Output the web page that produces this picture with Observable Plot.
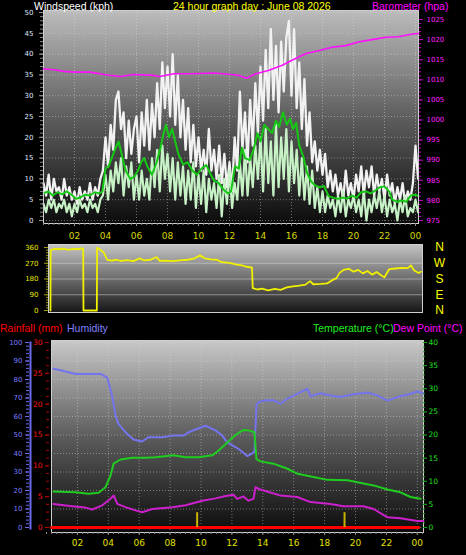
<!DOCTYPE html>
<html><head><meta charset="utf-8">
<script src="https://cdn.jsdelivr.net/npm/d3@7"></script>
<script src="https://cdn.jsdelivr.net/npm/@observablehq/plot@0.6"></script>
<style>
html,body{margin:0;padding:0;background:#000;}
#chart{position:relative;width:466px;height:555px;background:#000;overflow:hidden;font-family:"Liberation Sans",Arial,sans-serif;}
#chart svg{position:absolute;left:0;top:0;}
.t{position:absolute;font-size:10.5px;line-height:10.5px;white-space:nowrap;}
</style></head><body><div id="chart"></div>
<script>
// ---------- DATA ----------
const hourTicks = [2,4,6,8,10,12,14,16,18,20,22,24];
const fmtHour = d => String(d % 24).padStart(2, "0");

// wind, sampled every 10 minutes from 00:00
const gust = [
 9,6,11,5,10,7,  8,5,10,6,8,5,  7,4,8,5,7,5,  9,5,8,6,10,12,
 20,13,23,17,29,31,  22,26,15,24,16,22,  25,14,26,18,29,17,  28,20,33,22,38,27,
 37,25,40,23,35,20,  29,17,27,14,23,13,  20,12,17,11,22,12,  17,10,18,9,16,8,
 14,7,20,12,31,17,  26,14,29,18,33,21,  37,24,41,27,46,29,  42,26,43,31,44,48,
 30,46,27,38,22,34,  18,26,14,19,12,17,  11,16,8,12,7,11,  6,9,5,12,6,9,
 5,11,7,13,6,12,  8,13,6,11,7,10,  5,11,6,9,4,8,  5,9,4,7,5,9,
 18,10];
const speed = [
 4,2,5,3,5,2,  4,3,5,2,4,1,  4,2,5,3,4,2,  5,3,4,2,5,6,
 11,5,12,7,14,9,  15,6,13,8,14,5,  11,5,12,6,10,5,  15,8,17,7,18,10,
 16,7,15,5,14,6,  13,4,12,5,14,3,  11,4,12,2,10,5,  9,3,11,1,10,4,
 12,3,9,5,14,6,  17,6,15,8,18,10,  20,7,22,9,19,6,  23,8,20,10,22,7,
 19,9,17,6,15,5,  13,4,12,3,8,2,  7,2,6,3,5,1,  6,2,7,1,5,3,
 6,2,5,1,7,0,  5,2,6,3,7,2,  6,1,5,2,4,0,  5,2,6,1,3,2,
 5,2];
const windHours = gust.map((_, i) => i / 6);

const avgHours = [0,0.3,0.6,0.9,1.2,1.5,1.8,2.1,2.4,2.7,3.0,3.3,3.6,3.8,4.0,4.2,4.4,4.6,4.85,5.1,5.3,5.6,5.85,6.1,6.3,6.5,6.7,7.0,7.3,7.55,7.75,7.9,8.1,8.3,8.5,8.7,9.0,9.3,9.6,9.9,10.2,10.5,10.8,11.0,11.3,11.6,11.9,12.1,12.35,12.6,12.8,13.0,13.3,13.55,13.8,14.0,14.25,14.5,14.75,15.0,15.2,15.45,15.7,15.9,16.1,16.3,16.5,16.75,17.0,17.25,17.5,17.8,18.1,18.4,18.7,19.0,19.3,19.6,19.9,20.2,20.5,20.8,21.1,21.4,21.7,22.0,22.3,22.5,22.8,23.1,23.4,23.7,24.0,24.2];
const avgValues = [6.5,7,6,6.8,6.3,7,6.2,5.2,5.6,6.2,6,6.8,6.5,7,12.5,13,15,17,19,15,12,10,10.5,12,14,15,13,11,14,17.5,21,23,20,22,19,16,13.5,14,12,11,12.5,13.3,11,9.6,9,7.5,6.5,7,13,12.5,17.5,15,14.5,17,21,19,23,22,21,24,22.5,26,23,24.5,22,23.5,18,15.5,11.5,9.5,8.5,8,8.3,5.8,5.5,5.2,5.5,5.3,6,5.5,6.8,7,6.5,7.2,8,8.2,7,5,4.5,4.8,4.5,6,6.2,5.8];

const baroHours = [0,0.7,1.3,2.0,3.0,4.1,5.0,5.8,7.1,7.5,8.4,9.5,11.0,12.1,12.6,13.1,13.7,14.5,15.4,16.0,16.9,17.8,18.6,19.5,20.3,21.2,22.1,22.9,23.8,24.2];
const baroValues = [1012.7,1012.5,1012.1,1011.9,1011.9,1011.2,1010.8,1011.3,1011.1,1010.8,1011.5,1011.5,1011.7,1011.3,1011.1,1010.4,1011.5,1012.3,1013.6,1014.8,1016.5,1017.3,1018.1,1018.5,1019.4,1020.0,1020.6,1020.7,1021.4,1021.5];

const dirHours = [0.45,0.46,0.7,1.0,1.3,1.6,1.9,2.2,2.5,2.56,2.58,3.44,3.46,3.7,3.9,4.1,4.4,4.7,5.0,5.4,5.8,6.2,6.5,6.9,7.3,7.5,7.9,8.3,8.8,9.3,9.7,10.1,10.4,10.8,11.2,11.5,12.0,12.4,12.8,13.1,13.45,13.5,13.8,14.1,14.5,14.9,15.3,15.7,16.1,16.5,16.9,17.2,17.4,17.9,18.3,18.6,18.9,19.1,19.4,19.7,20.0,20.3,20.6,20.9,21.2,21.5,21.8,22.0,22.3,22.7,23.1,23.5,23.7,23.9,24.2,24.35];
const dirValues = [0,345,352,350,353,347,352,350,355,352,0,0,358,345,330,290,285,290,283,288,282,298,286,290,305,283,285,282,286,290,296,315,298,292,290,276,272,264,258,250,245,128,120,125,115,124,118,132,138,142,148,168,150,152,155,172,185,215,234,238,222,232,212,226,205,220,200,190,236,240,244,242,258,230,214,222];
const compassLabels = ["N","W","S","E","N"];
const compassDegrees = [360,270,180,90,0];

const humHours = [0.45,0.9,1.88,3.5,3.93,4.25,4.47,4.66,5.11,5.63,6.19,6.6,7.49,8.22,8.87,9.19,9.64,10.29,10.94,11.37,11.7,12.23,12.56,12.99,13.31,13.46,13.59,13.72,14.05,14.69,15.15,15.6,16.25,16.89,17.09,17.73,18.38,19.03,19.87,20.78,21.42,22.07,22.72,23.56,24.01,24.4];
const humValues = [85.8,85,83,83,81,71,60.5,56,51.5,47.6,46.5,48.8,48.8,49.7,49.7,51.5,53,55,52.5,49.7,46,43.5,41.6,38.6,40,41,66,67.7,68.6,68.8,67,69.7,72.4,75,71,72.6,71.4,70.5,72,73,71.4,68.6,70.5,72.3,73.5,72.4];

const tempHours = [0.45,1.88,2.72,3.37,3.82,4.14,4.34,4.79,5.55,6.41,7.06,8.22,9.0,9.84,10.72,11.13,11.7,12.23,12.75,13.07,13.46,13.59,13.85,14.69,15.6,16.25,17.28,18.19,19.48,20.13,21.17,22.07,22.91,23.56,24.21];
const tempValues = [7.8,7.6,7.3,7.5,8.7,11.2,13.8,14.7,15.1,15.1,15.2,15.6,15.2,15.2,15.6,16.6,18.4,20,21.1,21,20.6,14.8,14.3,13.8,12.7,11.6,10.9,10.3,10.2,9.8,9.1,8.2,7.6,6.6,6.2];

const dewHours = [0.45,1.66,2.52,2.96,3.61,4.14,4.36,4.58,5.11,5.76,6.19,6.84,8.14,9.0,10.08,10.94,11.59,12.1,12.34,12.75,13.07,13.4,13.53,13.85,14.28,15.15,16.23,17.09,18.38,19.22,20.52,21.17,22.07,22.91,24.01,24.4];
const dewValues = [5.1,4.6,4.3,3.9,4.8,6.2,6.9,5.1,4.4,3.7,3.3,4.0,4.4,4.8,5.8,6.3,6.8,7.1,6.2,6.7,5.8,6.2,8.7,8.2,7.8,6.9,6.6,5.5,5.1,4.6,4.6,4.0,2.2,2.0,1.4,1.4];

const rainHours = [0.32, 24.08];
const rainValues = [0, 0];
const rainMarkHours = [9.75, 19.29];
const rainMarkValues = [2.4, 2.4];

// ---------- BUILD ----------
const zip = (hs, vs) => hs.map((h, i) => ({h, v: vs[i]}));
const gustData = zip(windHours, gust);
const speedData = zip(windHours, speed);
const avgData = zip(avgHours, avgValues);
const baroData = zip(baroHours, baroValues);
const dirData = zip(dirHours, dirValues);
const compass = compassLabels.map((lab, i) => ({lab, deg: compassDegrees[i]}));
const humData = zip(humHours, humValues);
const tempData = zip(tempHours, tempValues);
const dewData = zip(dewHours, dewValues);
const rainData = zip(rainHours, rainValues);
const rainMarks = zip(rainMarkHours, rainMarkValues);

const chart = document.getElementById("chart");
const base = {width: 466, height: 555,
  style: "background:transparent;overflow:visible;position:absolute;left:0;top:0;font-family:'DejaVu Sans',sans-serif;"};
function addGrad(svg, id, stops) {
  const g = d3.select(svg).insert("defs", ":first-child").append("linearGradient")
    .attr("id", id).attr("x1", 0).attr("y1", 0).attr("x2", 0).attr("y2", 1);
  stops.forEach(([o, c]) => g.append("stop").attr("offset", o).attr("stop-color", c));
}
const plain = d => String(d);
const dotted = {stroke: "#dcdcdc", strokeOpacity: 0.45, strokeDasharray: "1,2"};
const x1 = {domain: [2, 24], range: [74, 415], axis: null};
const x3 = {domain: [2, 24], range: [76.9, 416.8], axis: null};
const m1 = {marginTop: 10, marginBottom: 332, marginLeft: 43, marginRight: 48};
const m3 = {marginTop: 340, marginBottom: 23, marginLeft: 51, marginRight: 43};

// Panel 1: wind
const p1 = Plot.plot({...base, ...m1, x: x1,
  y: {domain: [0, 50], range: [220, 12], axis: null},
  marks: [
    Plot.frame({fill: "url(#gWind)", stroke: "none"}),
    Plot.gridY(d3.range(0, 51, 5), dotted),
    Plot.gridX(hourTicks, dotted),
    Plot.line(gustData, {x: "h", y: "v", stroke: "#f2f2f2", strokeWidth: 2.3}),
    Plot.line(speedData, {x: "h", y: "v", stroke: "#c6f2c6", strokeWidth: 2.2}),
    Plot.line(avgData, {x: "h", y: "v", stroke: "#14c814", strokeWidth: 2}),
    Plot.frame({stroke: "#cfcfcf"}),
    Plot.axisY(d3.range(0, 51, 5), {anchor: "left", tickSize: 4, tickPadding: 6, stroke: "#9a9a9a", fill: "#dfe8ff", fontSize: 7, tickFormat: plain, label: null}),
    Plot.axisY(d3.range(0, 51, 1), {anchor: "left", tickSize: 3, stroke: "#8a8a8a", fill: "none", label: null}),
    Plot.axisX(hourTicks, {anchor: "bottom", tickSize: 3, tickPadding: 6, stroke: "#9a9a9a", fill: "#d8d800", fontSize: 9, tickFormat: fmtHour, label: null}),
    Plot.axisX(d3.range(0, 24.2, 1/3), {anchor: "bottom", tickSize: 2, stroke: "#8a8a8a", fill: "none", label: null})
  ]});
addGrad(p1, "gWind", [[0, "#bcbcbc"], [0.5, "#5e5e5e"], [1, "#0c0c0c"]]);
chart.appendChild(p1);

// Panel 1 overlay: barometer
const p1b = Plot.plot({...base, ...m1, x: x1,
  y: {domain: [975, 1025], range: [220, 19], axis: null},
  marks: [
    Plot.line(baroData, {x: "h", y: "v", stroke: "#ff10ff", strokeWidth: 1.6}),
    Plot.axisY(d3.range(975, 1026, 5), {anchor: "right", tickSize: 4, tickPadding: 4, stroke: "#d000d0", fill: "#ff20ff", fontSize: 7, tickFormat: plain, label: null}),
    Plot.axisY(d3.range(975, 1026, 1), {anchor: "right", tickSize: 2, stroke: "#b000b0", fill: "none", label: null})
  ]});
chart.appendChild(p1b);

// Panel 2: wind direction
const p2 = Plot.plot({...base, marginTop: 244, marginBottom: 243, marginLeft: 48, marginRight: 44, x: x1,
  y: {domain: [0, 360], range: [310, 247], axis: null},
  marks: [
    Plot.frame({fill: "url(#gDir)", stroke: "none"}),
    Plot.gridY([90, 180, 270], {stroke: "#dcdcdc", strokeOpacity: 0.5}),
    Plot.line(dirData, {x: "h", y: "v", stroke: "#f0f000", strokeWidth: 1.8}),
    Plot.frame({stroke: "#cfcfcf"}),
    Plot.axisY([0, 90, 180, 270, 360], {anchor: "left", tickSize: 4, tickPadding: 6, stroke: "#a0a000", fill: "#e8e800", fontSize: 7, tickFormat: plain, label: null}),
    Plot.axisY(d3.range(0, 361, 15), {anchor: "left", tickSize: 2, stroke: "#909000", fill: "none", label: null}),
    Plot.text(compass, {y: "deg", text: "lab", frameAnchor: "right", dx: 17, textAnchor: "middle", fill: "#ffff00", fontSize: 12, fontFamily: "Liberation Sans"})
  ]});
addGrad(p2, "gDir", [[0, "#c4c4c4"], [1, "#161616"]]);
chart.appendChild(p2);

// Panel 3: base (background, grid, time axis)
const p3 = Plot.plot({...base, ...m3, x: x3,
  y: {domain: [0, 100], range: [527, 342], axis: null},
  marks: [
    Plot.frame({fill: "url(#gTemp)", stroke: "none"}),
    Plot.gridY(d3.range(0, 101, 10), dotted),
    Plot.gridX(hourTicks, dotted),
    Plot.frame({stroke: "#cfcfcf"}),
    Plot.axisX(hourTicks, {anchor: "bottom", tickSize: 3, tickPadding: 4, stroke: "#9a9a9a", fill: "#e0e000", fontSize: 9, tickFormat: fmtHour, label: null}),
    Plot.axisX(d3.range(0, 24.5, 1/3), {anchor: "bottom", tickSize: 2, stroke: "#8a8a8a", fill: "none", label: null})
  ]});
addGrad(p3, "gTemp", [[0, "#c8c8c8"], [0.5, "#5c5c5c"], [1, "#0c0c0c"]]);
chart.appendChild(p3);

// Panel 3 overlay: humidity (axis bar at left)
const p3h = Plot.plot({...base, marginTop: 341, marginBottom: 26, marginLeft: 29, marginRight: 435, x: x3,
  y: {domain: [0, 100], range: [527, 342], axis: null},
  marks: [
    Plot.frame({fill: "#6a6af0", stroke: "none"}),
    Plot.line(humData, {x: "h", y: "v", stroke: "#7474ee", strokeWidth: 2}),
    Plot.axisY(d3.range(0, 101, 10), {anchor: "left", tickSize: 4, tickPadding: 3, stroke: "#6a6af0", fill: "#7c7cff", fontSize: 7, tickFormat: plain, label: null}),
    Plot.axisY(d3.range(0, 101, 2), {anchor: "left", tickSize: 3, stroke: "#6a6af0", fill: "none", label: null})
  ]});
chart.appendChild(p3h);

// Panel 3 overlay: temperature & dew point (right axis)
const p3t = Plot.plot({...base, marginTop: 340, marginBottom: 23, marginLeft: 51, marginRight: 44, x: x3,
  y: {domain: [0, 40], range: [527, 342], axis: null},
  marks: [
    Plot.line(tempData, {x: "h", y: "v", stroke: "#20cc20", strokeWidth: 2}),
    Plot.line(dewData, {x: "h", y: "v", stroke: "#cc20cc", strokeWidth: 2}),
    Plot.axisY(d3.range(0, 41, 5), {anchor: "right", tickSize: 4, tickPadding: 2, stroke: "#10b010", fill: "#22e022", fontSize: 7.5, tickFormat: plain, label: null}),
    Plot.axisY(d3.range(0, 41, 1), {anchor: "right", tickSize: 2, stroke: "#10a010", fill: "none", label: null})
  ]});
chart.appendChild(p3t);

// Panel 3 overlay: rainfall (second left axis)
const p3r = Plot.plot({...base, marginTop: 340, marginBottom: 23, marginLeft: 49, marginRight: 43, x: x3,
  y: {domain: [0, 30], range: [527, 342], axis: null},
  marks: [
    Plot.line(rainData, {x: "h", y: "v", stroke: "#ff0000", strokeWidth: 3}),
    Plot.ruleX(rainMarks, {x: "h", y1: "v", stroke: "#c8b400", strokeWidth: 2}),
    Plot.axisY(d3.range(0, 31, 5), {anchor: "left", tickSize: 4, tickPadding: 3, stroke: "#c00000", fill: "#ff1010", fontSize: 7.5, tickFormat: plain, label: null}),
    Plot.axisY(d3.range(0, 30.1, 1.25), {anchor: "left", tickSize: 3, stroke: "#b00000", fill: "none", label: null})
  ]});
chart.appendChild(p3r);

// Titles
const titles = [
  {text: "Windspeed (kph)", left: 34, top: 1, color: "#ffffff"},
  {text: "24 hour graph day : June 08 2026", left: 173, top: 1, color: "#ffff00"},
  {text: "Barometer (hpa)", left: 372, top: 1, color: "#ff00ff"},
  {text: "Rainfall (mm)", left: 0, top: 323, color: "#ff0000"},
  {text: "Humidity", left: 67, top: 323, color: "#8080ff"},
  {text: "Temperature (°C)", left: 313, top: 323, color: "#22ee22"},
  {text: "Dew Point (°C)", left: 393, top: 323, color: "#ff00ff"}
];
titles.forEach(t => {
  const d = document.createElement("div");
  d.className = "t"; d.textContent = t.text;
  d.style.left = t.left + "px"; d.style.top = t.top + "px"; d.style.color = t.color;
  chart.appendChild(d);
});
</script></body></html>
